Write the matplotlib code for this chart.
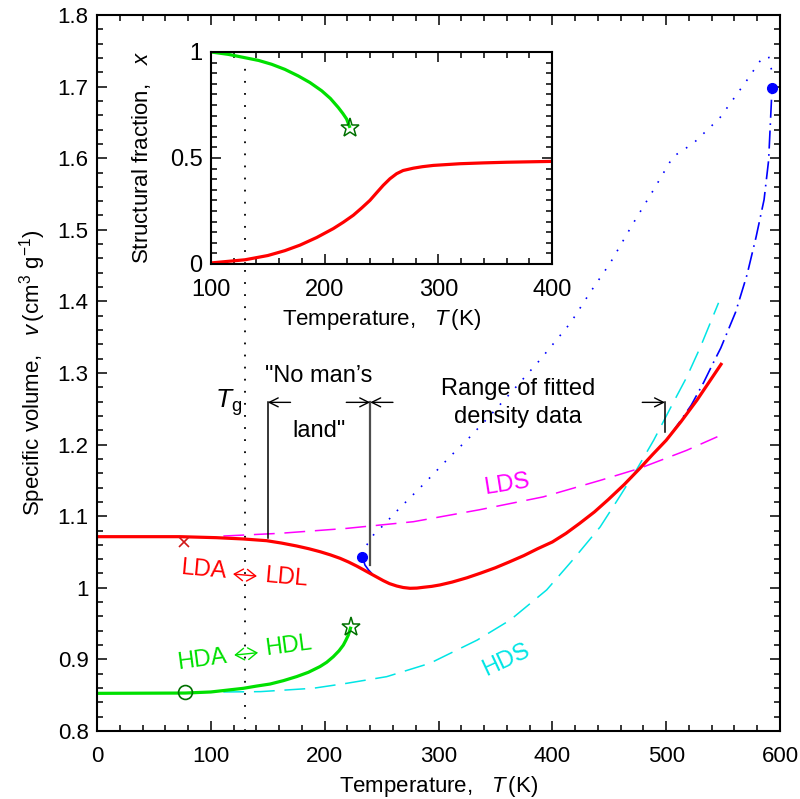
import matplotlib
matplotlib.use("Agg")
import matplotlib.pyplot as plt
from matplotlib.ticker import MultipleLocator, FuncFormatter

plt.rcParams["font.family"] = ["Liberation Sans", "DejaVu Sans"]
plt.rcParams["mathtext.fontset"] = "custom"
plt.rcParams["mathtext.rm"] = "Liberation Sans"
plt.rcParams["mathtext.it"] = "Liberation Sans:italic"
plt.rcParams["mathtext.bf"] = "Liberation Sans:bold"
plt.rcParams["lines.scale_dashes"] = False

RED = "#ff0000"
GREEN = "#00e000"
DKGREEN = "#007000"
CYAN = "#00e5e5"
MAGENTA = "#ff00ff"
BLUE = "#0000ff"

# ---- main panel: specific volume vs temperature ----
T_ldl = [0, 47, 73, 105, 128.5, 149, 162, 175.4, 186, 196, 205, 213.5, 221,
         228.1, 234, 239.8, 246, 251.5, 257, 263.3, 269, 275, 281, 286.7, 294,
         301.3, 312, 325, 337, 350, 362, 375, 387, 400, 412, 424, 437, 449, 463,
         477, 488, 500, 513, 527, 538, 549]
v_ldl = [1.0714, 1.0714, 1.0714, 1.0700, 1.0682, 1.0658, 1.0625, 1.0584,
         1.0546, 1.0504, 1.0460, 1.0412, 1.0360, 1.0304, 1.0253, 1.0202,
         1.0148, 1.0100, 1.0058, 1.0025, 1.0004, 0.9993, 0.9996, 1.0007,
         1.0020, 1.0040, 1.0080, 1.0140, 1.0205, 1.0280, 1.0360, 1.0450,
         1.0545, 1.0640, 1.0760, 1.0900, 1.1060, 1.1230, 1.1440, 1.1670,
         1.1860, 1.2060, 1.2320, 1.2620, 1.2880, 1.3140]

T_hdl = [0, 77.3, 100, 128.5, 140, 152, 163.7, 175.4, 185.7, 195.9, 201.8,
         207.6, 212.6, 216.4, 218.7, 220.8, 223.1]
v_hdl = [0.8526, 0.8530, 0.8545, 0.8596, 0.8627, 0.8656, 0.8703, 0.8760,
         0.8820, 0.8900, 0.8960, 0.9038, 0.9120, 0.9200, 0.9270, 0.9340,
         0.9457]

T_lds = [111, 160.8, 219.4, 277.9, 336, 392, 442, 477, 518, 545]
v_lds = [1.0723, 1.0761, 1.0830, 1.0923, 1.1090, 1.1270, 1.1500, 1.1670,
         1.1920, 1.2110]

T_hds = [111, 143.7, 190, 219.3, 254.5, 292.5, 334, 363, 395, 418, 442, 459,
         474, 489, 506, 518, 530, 546]
v_hds = [0.8545, 0.8550, 0.8597, 0.8666, 0.8759, 0.8946, 0.9270, 0.9550,
         0.9970, 1.0390, 1.0850, 1.1270, 1.1650, 1.2060, 1.2580, 1.2940,
         1.3360, 1.3980]

# upper blue dotted branch
T_dot = [237, 242.8, 252, 262, 272, 284, 295, 310, 326, 345, 365, 389, 416,
         433, 451, 471, 489, 506, 524, 547, 571, 583, 590, 593]
v_dot = [1.0598, 1.0737, 1.088, 1.105, 1.121, 1.140, 1.158, 1.183, 1.208,
         1.240, 1.275, 1.318, 1.370, 1.412, 1.454, 1.509, 1.556, 1.602, 1.621,
         1.656, 1.709, 1.737, 1.742, 1.720]

# blue dash-dot branch up to the upper end point
T_dd = [503, 512, 522, 533, 541, 548, 561, 571, 579, 586, 590, 593]
v_dd = [1.212, 1.232, 1.255, 1.287, 1.313, 1.335, 1.385, 1.437, 1.490, 1.542,
        1.597, 1.698]

# short blue stub near the low-T end point
T_stub = [233.1, 235.4, 238.5, 241.3]
v_stub = [1.0435, 1.0318, 1.0250, 1.0202]

T_g = 130

# marker points
x_mark = (76, 1.064)
circ_mark = (77.3, 0.855)
star_mark = (223.1, 0.9457)
blue_low = (233.1, 1.0435)
blue_high = (593, 1.6985)

# ---- inset: structural fraction ----
Ti_red = [100, 130, 150, 165, 178.3, 193, 207.6, 216.4, 225.2, 232.5, 239.8,
          245.7, 251.5, 257.4, 263.3, 269, 278, 286, 295.5, 319, 340, 360,
          380, 400]
x_red = [0.005, 0.02, 0.04, 0.063, 0.089, 0.125, 0.167, 0.197, 0.230, 0.264,
         0.300, 0.336, 0.371, 0.402, 0.426, 0.441, 0.452, 0.459, 0.465, 0.473,
         0.477, 0.480, 0.482, 0.484]

Ti_grn = [100, 115, 130, 142, 153.4, 165, 176.8, 187, 197.4, 205, 212, 216,
          219.3, 222.3]
x_grn = [1.0, 0.989, 0.973, 0.96, 0.942, 0.918, 0.887, 0.856, 0.817, 0.781,
         0.738, 0.710, 0.684, 0.642]
star_in = (222.3, 0.642)


def style_axes(ax, xmaj, xmin, ymaj, ymin, size):
    for s in ax.spines.values():
        s.set_linewidth(1.5)
    ax.xaxis.set_major_locator(MultipleLocator(xmaj))
    ax.xaxis.set_minor_locator(MultipleLocator(xmin))
    ax.yaxis.set_major_locator(MultipleLocator(ymaj))
    ax.yaxis.set_minor_locator(MultipleLocator(ymin))
    ax.tick_params(which="both", direction="in", top=True, right=True, width=1.1)
    ax.tick_params(which="major", length=7.5, labelsize=size)
    ax.tick_params(which="minor", length=4)
    ax.tick_params(axis="x", pad=11)
    ax.tick_params(axis="y", pad=6)
    ax.yaxis.set_major_formatter(FuncFormatter(lambda v, p: f"{round(v, 3):g}"))


def phase_label(ax, left, right, arrow_ends, color, rot):
    # left phase name, open double arrow, right phase name
    kw = dict(color=color, rotation=rot, ha="center", va="center",
              rotation_mode="anchor", fontsize=17)
    ax.text(*left[1], left[0], **kw)
    ax.text(*right[1], right[0], **kw)
    ax.annotate("", xy=arrow_ends[1], xytext=arrow_ends[0],
                arrowprops=dict(arrowstyle="<->,head_length=0.45,head_width=0.3",
                                color=color, lw=1.0, shrinkA=0, shrinkB=0,
                                mutation_scale=14))


fig = plt.figure(figsize=(8, 7.99), dpi=100)
ax = fig.add_axes([97 / 800, 1 - 731 / 799, 683 / 800, 716 / 799])
ax.set_xlim(0, 600)
ax.set_ylim(0.8, 1.8)
style_axes(ax, 100, 20, 0.1, 0.02, 16)

ax.plot([T_g, T_g], [0.8, 1.725], color="k", lw=1.3, ls=(0, (1.3, 7.4)))

ax.plot(T_lds, v_lds, color=MAGENTA, lw=1.1, ls=(0, (15, 7)))
ax.plot(T_hds, v_hds, color=CYAN, lw=1.1, ls=(0, (15, 7)))
ax.plot(T_dot, v_dot, color=BLUE, lw=1.2, ls=(0, (1.2, 7)))
ax.plot(T_dd, v_dd, color=BLUE, lw=1.2, ls=(0, (13, 4, 1.2, 4)))
ax.plot(T_stub, v_stub, color=BLUE, lw=1.2)
ax.plot(T_ldl, v_ldl, color=RED, lw=2.3, solid_capstyle="butt")
ax.plot(T_hdl, v_hdl, color=GREEN, lw=2.3, solid_capstyle="butt")

ax.plot(*x_mark, marker="x", ms=7, mew=1.2, color="#d01818")
ax.plot(*circ_mark, marker="o", ms=10, mfc="none", mec=DKGREEN, mew=1.2)
ax.plot(*star_mark, marker="*", ms=14, mfc="none", mec=DKGREEN, mew=1.1)
ax.plot(*blue_low, marker="o", ms=7, color=BLUE)
ax.plot(*blue_high, marker="o", ms=7, color=BLUE)

# range brackets
ax.plot([150, 150], [1.070, 1.259], color="k", lw=1.1)
ax.plot([240, 240], [1.032, 1.259], color="0.3", lw=1.6)
ax.plot([499, 499], [1.218, 1.259], color="k", lw=1.1)
arrow = dict(arrowstyle="->", lw=1.0, color="k", shrinkA=0, shrinkB=0,
             mutation_scale=16)
ax.annotate("", xy=(150, 1.259), xytext=(170, 1.259), arrowprops=arrow)
ax.annotate("", xy=(240, 1.259), xytext=(219, 1.259), arrowprops=arrow)
ax.annotate("", xy=(240, 1.259), xytext=(260, 1.259), arrowprops=arrow)
ax.annotate("", xy=(499, 1.259), xytext=(479, 1.259), arrowprops=arrow)

ax.text(195, 1.288, "\"No man\u2019s", fontsize=17, ha="center", va="baseline")
ax.text(195, 1.210, "land\"", fontsize=17, ha="center", va="baseline")
ax.text(370, 1.269, "Range of fitted", fontsize=17, ha="center", va="baseline")
ax.text(370, 1.230, "density data", fontsize=17, ha="center", va="baseline")
ax.text(127.5, 1.258, r"$T_{\mathrm{g}}$", fontsize=19, ha="right", va="center")

phase_label(ax, ("LDA", (93.5, 1.0255)), ("LDL", (166, 1.0145)),
            [(119.5, 1.0193), (140.5, 1.0163)], RED, -5)
phase_label(ax, ("HDA", (92.5, 0.899)), ("HDL", (168, 0.9192)),
            [(120.5, 0.9060), (141.5, 0.9094)], GREEN, 7.5)
ax.text(360, 1.1436, "LDS", color=MAGENTA, fontsize=17, rotation=9,
        ha="center", va="center", rotation_mode="anchor")
ax.text(359, 0.899, "HDS", color=CYAN, fontsize=17, rotation=25,
        ha="center", va="center", rotation_mode="anchor")

ax.set_xlabel(r"Temperature,   $T\,$(K)", fontsize=16, labelpad=4.5)
ax.set_ylabel(r"Specific volume,   $v\,$(cm$^{3}$ g$^{-1}$)", fontsize=16,
              labelpad=7)

# ---- inset ----
axin = fig.add_axes([211 / 800, 1 - 264 / 799, 341 / 800, 212 / 799])
axin.set_xlim(100, 400)
axin.set_ylim(0, 1)
style_axes(axin, 100, 20, 0.5, 0.05, 17)
axin.plot([T_g, T_g], [0, 0.962], color="k", lw=1.3, ls=(0, (1.3, 7.4)))
axin.plot(Ti_red, x_red, color=RED, lw=2.3)
axin.plot(Ti_grn, x_grn, color=GREEN, lw=2.3, solid_capstyle="butt")
axin.plot(*star_in, marker="*", ms=14, mfc="none", mec=DKGREEN, mew=1.1)
axin.set_xlabel(r"Temperature,   $T\,$(K)", fontsize=16, labelpad=4)
axin.set_ylabel(r"Structural fraction,   $x$", fontsize=16, labelpad=12)

fig.savefig("out.png", dpi=100)
